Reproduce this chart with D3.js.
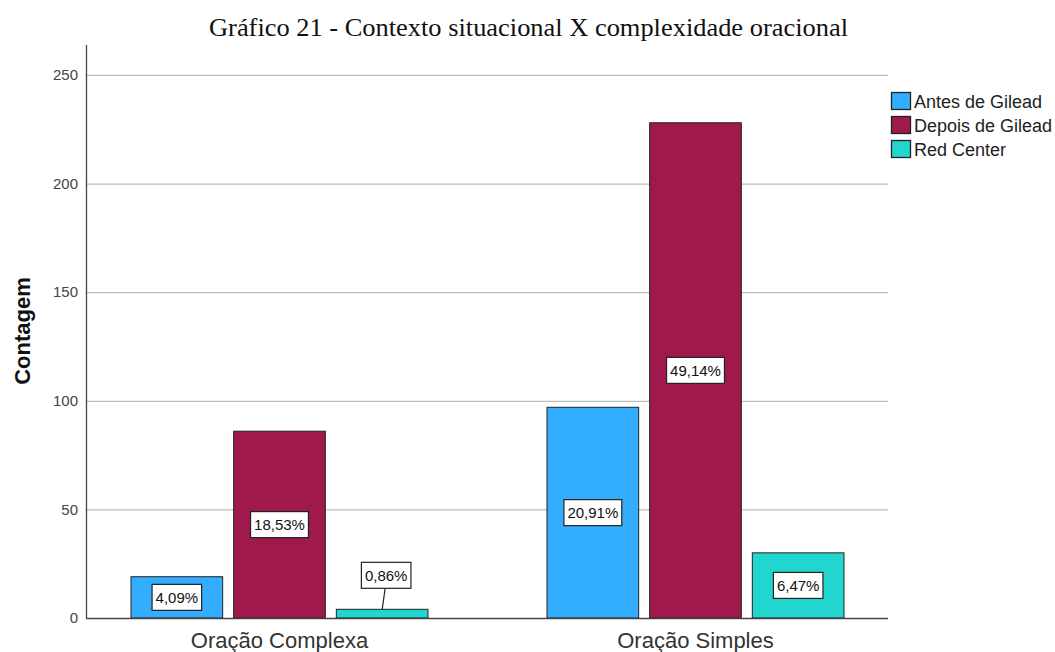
<!DOCTYPE html>
<html>
<head>
<meta charset="utf-8">
<script src="https://cdn.jsdelivr.net/npm/d3@7/dist/d3.min.js"></script>
<style>
  html, body { margin: 0; padding: 0; background: #fff; }
  svg { display: block; }
</style>
</head>
<body>
<svg id="chart" width="1055" height="652"></svg>
<script>
// Counts of clauses per type and situational context
const categories = ["Oração Complexa", "Oração Simples"];
const seriesNames = ["Antes de Gilead", "Depois de Gilead", "Red Center"];
const seriesColors = ["#33adff", "#a0194c", "#22d6d0"];
const antesValues = [19, 97];
const depoisValues = [86, 228];
const redCenterValues = [4, 30];
const percentLabels = [
  ["4,09%", "20,91%"],
  ["18,53%", "49,14%"],
  ["0,86%", "6,47%"]
];
const yTicks = [0, 50, 100, 150, 200, 250];
const titleText = "Gráfico 21 - Contexto situacional X complexidade oracional";
const yTitle = "Contagem";

const seriesValues = [antesValues, depoisValues, redCenterValues];

const svg = d3.select("#chart");
const plot = { left: 86, right: 888, top: 45, bottom: 618 };
const sans = "Arial, 'Liberation Sans', sans-serif";

const y = d3.scaleLinear().domain([0, 263.8]).range([plot.bottom, plot.top]);
const x = d3.scaleBand().domain(categories).range([71.5, 903.5]);
const xs = d3.scaleBand().domain(seriesNames).range([59.5, 356.5]).paddingInner(0.107);

// Title
svg.append("text")
  .attr("x", 209).attr("y", 36)
  .attr("font-family", "'Liberation Serif', 'Times New Roman', serif")
  .attr("font-size", 26)
  .attr("textLength", 639).attr("lengthAdjust", "spacingAndGlyphs")
  .attr("fill", "#111")
  .text(titleText);

// Gridlines
svg.append("g")
  .selectAll("line")
  .data(yTicks.filter(t => t > 0))
  .join("line")
  .attr("x1", plot.left).attr("x2", plot.right)
  .attr("y1", d => y(d) + 0.5).attr("y2", d => y(d) + 0.5)
  .attr("stroke", "#bcbcbc").attr("stroke-width", 1.2);

// Y axis
const yAxis = d3.axisLeft(y).tickValues(yTicks).tickSize(0).tickPadding(8);
const yg = svg.append("g").attr("transform", `translate(${plot.left},0)`).call(yAxis);
yg.select(".domain").remove();
yg.selectAll("text")
  .attr("font-family", sans)
  .attr("font-size", 15).attr("fill", "#444");

// Y axis title
svg.append("text")
  .attr("transform", `translate(30,331) rotate(-90)`)
  .attr("text-anchor", "middle")
  .attr("font-family", sans)
  .attr("font-size", 22).attr("font-weight", "bold").attr("fill", "#111")
  .text(yTitle);

// Bars
const barData = [];
seriesNames.forEach((s, si) => {
  categories.forEach((c, ci) => {
    barData.push({ series: s, si, cat: c, ci, value: seriesValues[si][ci], label: percentLabels[si][ci] });
  });
});

svg.append("g")
  .selectAll("rect")
  .data(barData)
  .join("rect")
  .attr("x", d => x(d.cat) + xs(d.series))
  .attr("width", xs.bandwidth())
  .attr("y", d => y(d.value))
  .attr("height", d => y(0) - y(d.value))
  .attr("fill", d => seriesColors[d.si])
  .attr("stroke", "#222").attr("stroke-width", 1);

// Axis lines
svg.append("line")
  .attr("x1", plot.left + 0.5).attr("x2", plot.left + 0.5)
  .attr("y1", plot.top).attr("y2", plot.bottom)
  .attr("stroke", "#444").attr("stroke-width", 1.3);
svg.append("line")
  .attr("x1", plot.left).attr("x2", plot.right)
  .attr("y1", plot.bottom + 0.5).attr("y2", plot.bottom + 0.5)
  .attr("stroke", "#444").attr("stroke-width", 1.3);

// X category labels
svg.append("g")
  .selectAll("text")
  .data(categories)
  .join("text")
  .attr("x", d => x(d) + x.bandwidth() / 2)
  .attr("y", 648)
  .attr("text-anchor", "middle")
  .attr("font-family", sans)
  .attr("font-size", 22).attr("fill", "#333")
  .text(d => d);

// Percentage labels in boxes
const labelG = svg.append("g");
barData.forEach(d => {
  const bx = x(d.cat) + xs(d.series) + xs.bandwidth() / 2;
  const barH = y(0) - y(d.value);
  const boxH = 26;
  const small = barH < boxH + 4;
  const cx = small ? bx + 4 : bx;
  const cy = small ? y(d.value) - 34 : (y(d.value) + y(0)) / 2;
  const g = labelG.append("g");
  if (small) {
    g.append("line")
      .attr("x1", bx).attr("y1", y(d.value))
      .attr("x2", bx + 3).attr("y2", cy + boxH / 2)
      .attr("stroke", "#222").attr("stroke-width", 1.2);
  }
  const t = g.append("text")
    .attr("x", cx).attr("y", cy + 5.5)
    .attr("text-anchor", "middle")
    .attr("font-family", sans)
    .attr("font-size", 15).attr("fill", "#111")
    .text(d.label);
  const w = t.node().getComputedTextLength() + 7;
  g.insert("rect", "text")
    .attr("x", cx - w / 2).attr("y", cy - boxH / 2)
    .attr("width", w).attr("height", boxH)
    .attr("fill", "#fff").attr("stroke", "#222").attr("stroke-width", 1.2);
});

// Legend
const legend = svg.append("g").attr("transform", "translate(891,92)");
seriesNames.forEach((s, i) => {
  const row = legend.append("g").attr("transform", `translate(0,${i * 24})`);
  row.append("rect")
    .attr("x", 0.5).attr("y", 0.5).attr("width", 19).attr("height", 17)
    .attr("fill", seriesColors[i]).attr("stroke", "#222").attr("stroke-width", 1.3);
  row.append("text")
    .attr("x", 23).attr("y", 16)
    .attr("font-family", sans)
    .attr("font-size", 18).attr("fill", "#222")
    .text(s);
});
</script>
</body>
</html>
